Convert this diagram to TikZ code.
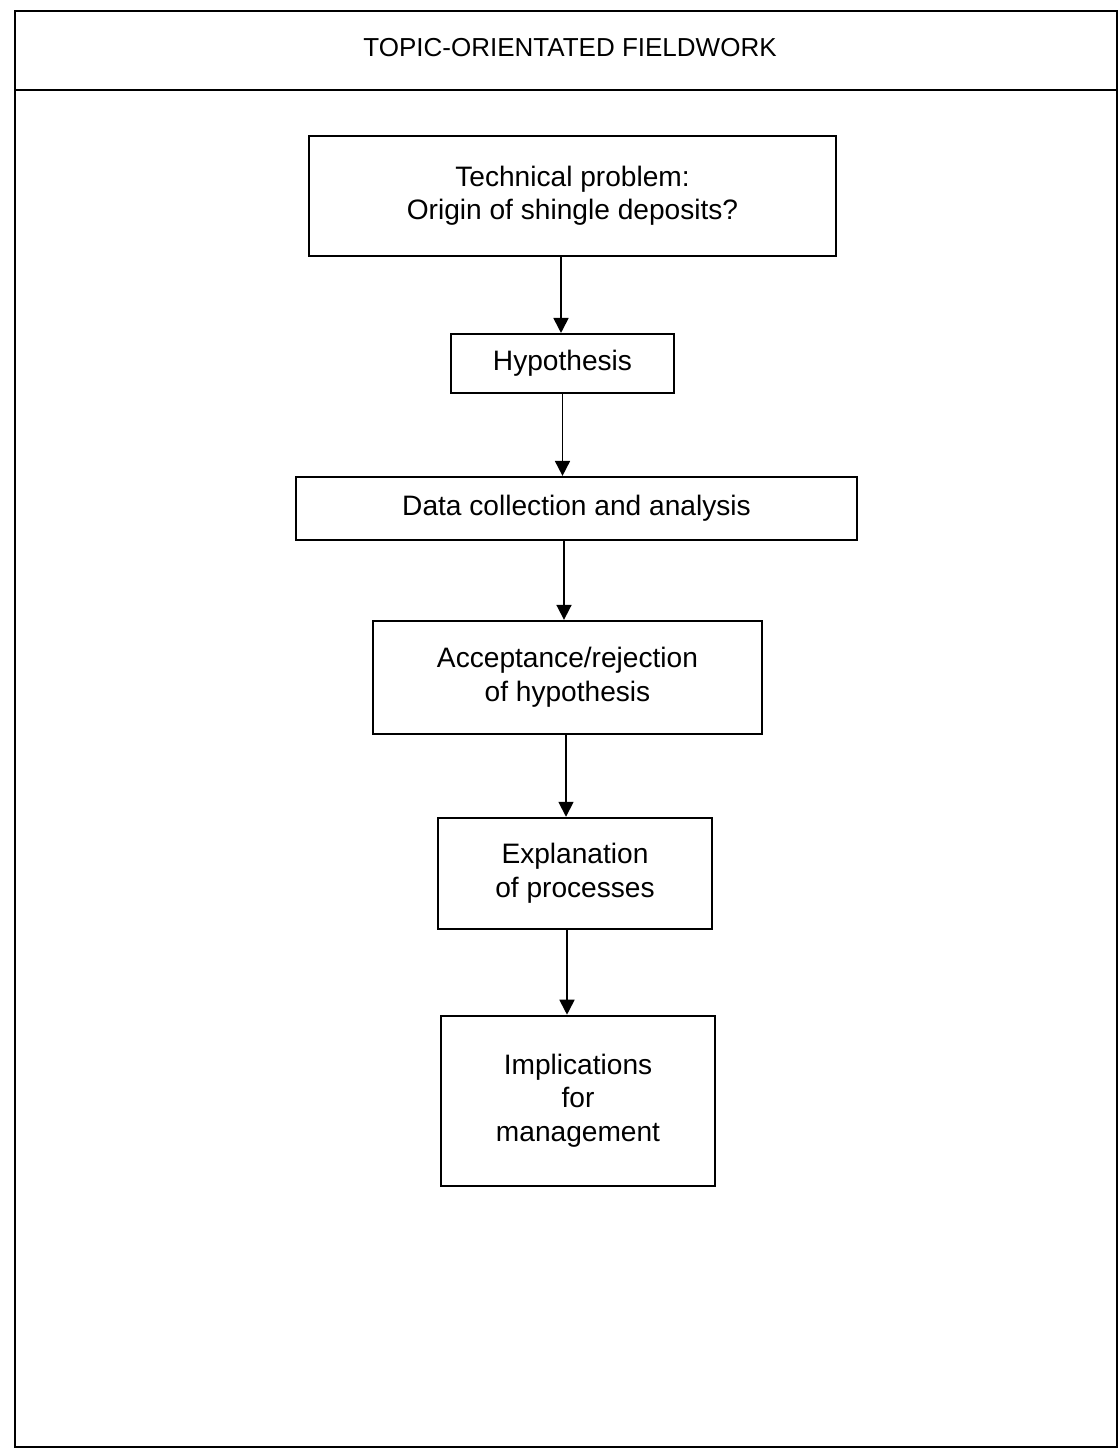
\documentclass[tikz,border=0pt]{standalone}
\usepackage{fontspec}
\setmainfont{Liberation Sans}
\usetikzlibrary{arrows.meta,positioning,calc}

\begin{document}
\begin{tikzpicture}[
    frame/.style={line width=1.1pt},
    box/.style={rectangle, draw, line width=1.1pt, inner sep=0pt, align=center, font=\fontsize{16}{19}\selectfont},
    arrow/.style={-{Triangle[width=0.3cm,length=0.3cm]}, line width=1pt}
]
\useasboundingbox (0,0) rectangle (22.4,-29);
% outer frame with header
\draw[frame] (0.3,-0.22) rectangle (22.34,-28.94);
\coordinate (hl) at (0.3,-1.8);
\coordinate (hr) at (22.34,-1.8);
\draw[frame] (hl) -- (hr);
\node[font=\fontsize{14.8}{17}\selectfont] (title) at (11.4,-0.96) {TOPIC-ORIENTATED FIELDWORK};

% flow of boxes
\node[box, minimum width=10.54cm, minimum height=2.4cm] (problem) at (11.45,-3.92) {Technical problem:\\Origin of shingle deposits?};
\node[box, minimum width=4.46cm, minimum height=1.18cm, below=1.52cm of problem, xshift=-0.2cm] (hypo) {Hypothesis};
\node[box, minimum width=11.22cm, minimum height=1.26cm, below=1.64cm of hypo, xshift=0.28cm] (data) {Data collection and analysis};
\node[box, minimum width=7.78cm, minimum height=2.26cm, below=1.58cm of data, xshift=-0.18cm] (accept) {Acceptance/rejection\\of hypothesis};
\node[box, minimum width=5.48cm, minimum height=2.22cm, below=1.64cm of accept, xshift=0.15cm] (explain) {Explanation\\of processes};
\node[box, minimum width=5.48cm, minimum height=3.4cm, below=1.7cm of explain, xshift=0.06cm] (implic) {Implications\\for\\management};

% connectors
\draw[arrow] ([xshift=-0.23cm]problem.south) -- ([xshift=-0.23cm]problem.south |- hypo.north);
\draw[arrow] (hypo.south) -- (hypo.south |- data.north);
\draw[arrow] ([xshift=-0.25cm]data.south) -- ([xshift=-0.25cm]data.south |- accept.north);
\draw[arrow] ([xshift=-0.03cm]accept.south) -- ([xshift=-0.03cm]accept.south |- explain.north);
\draw[arrow] ([xshift=-0.16cm]explain.south) -- ([xshift=-0.16cm]explain.south |- implic.north);
\end{tikzpicture}
\end{document}
